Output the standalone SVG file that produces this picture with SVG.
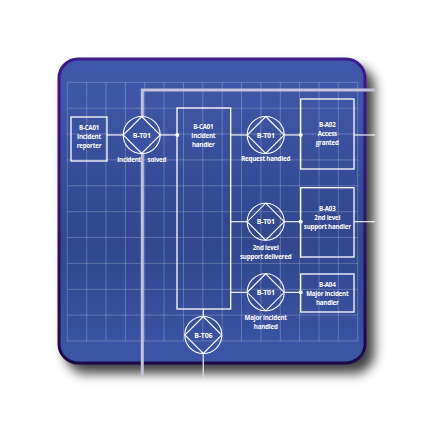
<svg xmlns="http://www.w3.org/2000/svg" width="443" height="443" viewBox="0 0 443 443">
<defs>
<linearGradient id="panelFill" x1="0" y1="0" x2="0" y2="1">
<stop offset="0" stop-color="#4159aa"/>
<stop offset="0.6" stop-color="#30478f"/>
<stop offset="1" stop-color="#3c55a6"/>
</linearGradient>
<linearGradient id="panelStroke" x1="0" y1="0" x2="0" y2="1">
<stop offset="0" stop-color="#3d1a8c"/>
<stop offset="1" stop-color="#1c0c44"/>
</linearGradient>
<filter id="shadow" x="-20%" y="-20%" width="150%" height="150%">
<feGaussianBlur in="SourceAlpha" stdDeviation="6"/>
<feOffset dx="8" dy="9" result="b"/>
<feComponentTransfer><feFuncA type="linear" slope="0.75"/></feComponentTransfer>
<feMerge><feMergeNode/><feMergeNode in="SourceGraphic"/></feMerge>
</filter>
</defs>
<style>
.grid{stroke:#ffffff;stroke-opacity:0.22;stroke-width:1;fill:none}
.box{fill:none;stroke:#ffffff;stroke-width:1.3}
.trans{fill:none;stroke:#ffffff;stroke-width:1.1}
.conn{stroke:#ffffff;stroke-width:1.1;fill:none}
.dot{fill:#ffffff}
text{font-family:"Open Sans","Noto Sans",sans-serif;font-weight:bold;font-size:6.2px;fill:#ffffff;text-anchor:middle;letter-spacing:-0.2px}
.tid{font-size:7px}
.thick{stroke:#c6c2da;stroke-width:3;fill:none}
</style>
<rect width="443" height="443" fill="#ffffff"/>
<rect x="59" y="59" width="306" height="304" rx="19" ry="19" fill="url(#panelFill)" stroke="url(#panelStroke)" stroke-width="3" filter="url(#shadow)"/>
<g id="grid">
<rect class="grid" x="67.3" y="82.3" width="290.4" height="258.7"/>
<path class="grid" d="M86.7 82.3V341M106 82.3V341M125.4 82.3V341M144.7 82.3V341M164.1 82.3V341M183.5 82.3V341M202.8 82.3V341M222.2 82.3V341M241.5 82.3V341M260.9 82.3V341M280.3 82.3V341M299.6 82.3V341M319 82.3V341M338.3 82.3V341"/>
<path class="grid" d="M67.3 108.2H357.7M67.3 134H357.7M67.3 159.9H357.7M67.3 185.8H357.7M67.3 211.7H357.7M67.3 237.5H357.7M67.3 263.4H357.7M67.3 289.3H357.7M67.3 315.1H357.7"/>
</g>
<g id="boundary">
<polyline class="thick" points="375,90 142.3,90 142.3,377"/>
</g>
<g id="connectors">
<line class="conn" x1="107" y1="135" x2="123.2" y2="135"/>
<line class="conn" x1="160.2" y1="135" x2="177" y2="135"/>
<line class="conn" x1="230.7" y1="135" x2="247.2" y2="135"/>
<line class="conn" x1="284.2" y1="135" x2="300.7" y2="135"/>
<line class="conn" x1="354" y1="135" x2="375" y2="135"/>
<line class="conn" x1="230.7" y1="221.7" x2="247.2" y2="221.7"/>
<line class="conn" x1="284.2" y1="221.7" x2="300.7" y2="221.7"/>
<line class="conn" x1="354" y1="221.7" x2="375" y2="221.7"/>
<line class="conn" x1="230.7" y1="292.3" x2="247.2" y2="292.3"/>
<line class="conn" x1="284.2" y1="292.3" x2="300.7" y2="292.3"/>
<line class="conn" x1="203.3" y1="309" x2="203.3" y2="316.5"/>
<line x1="203.3" y1="353.5" x2="203.3" y2="379" stroke="#d8d5e6" stroke-width="1.4"/>
<circle class="dot" cx="177.3" cy="135" r="2"/>
<circle class="dot" cx="300.7" cy="135" r="2"/>
<circle class="dot" cx="300.7" cy="221.7" r="2"/>
<circle class="dot" cx="300.7" cy="292.3" r="2"/>
</g>
<g id="ca01-reporter">
<rect class="box" x="71" y="117" width="36" height="44"/>
<text x="89" y="130">B-CA01</text>
<text x="89" y="139">Incident</text>
<text x="89" y="148">reporter</text>
</g>
<g id="t01-incident-solved">
<circle cx="141.7" cy="135" r="18.5" fill="#3a52a1" stroke="#ffffff" stroke-width="1.1"/>
<polygon class="trans" points="141.7,116.5 160.2,135 141.7,153.5 123.2,135"/>
<text class="tid" x="141.7" y="137.5">B-T01</text>
<text x="141.7" y="162" word-spacing="5">Incident solved</text>
</g>
<g id="ca01-handler">
<rect class="box" x="177" y="108" width="53.7" height="201"/>
<text x="203.3" y="129">B-CA01</text>
<text x="203.3" y="138">Incident</text>
<text x="203.3" y="147">handler</text>
</g>
<g id="t01-request-handled">
<circle class="trans" cx="265.7" cy="135" r="18.5"/>
<polygon class="trans" points="265.7,116.5 284.2,135 265.7,153.5 247.2,135"/>
<text class="tid" x="265.7" y="137.5">B-T01</text>
<text x="265.7" y="161">Request handled</text>
</g>
<g id="a02">
<rect class="box" x="300.7" y="99" width="53.3" height="70"/>
<text x="327.3" y="127">B-A02</text>
<text x="327.3" y="136">Access</text>
<text x="327.3" y="145">granted</text>
</g>
<g id="t01-2nd-level">
<circle class="trans" cx="265.7" cy="221.7" r="18.5"/>
<polygon class="trans" points="265.7,203.2 284.2,221.7 265.7,240.2 247.2,221.7"/>
<text class="tid" x="265.7" y="224.2">B-T01</text>
<text x="265.7" y="249.5">2nd level</text>
<text x="265.7" y="258.5">support delivered</text>
</g>
<g id="a03">
<rect class="box" x="300.7" y="187.7" width="53.3" height="69.3"/>
<text x="327.3" y="211">B-A03</text>
<text x="327.3" y="220">2nd level</text>
<text x="327.3" y="229">support handler</text>
</g>
<g id="t01-major">
<circle class="trans" cx="265.7" cy="292.3" r="18.5"/>
<polygon class="trans" points="265.7,273.8 284.2,292.3 265.7,310.8 247.2,292.3"/>
<text class="tid" x="265.7" y="294.8">B-T01</text>
<text x="265.7" y="319.5">Major incident</text>
<text x="265.7" y="328.5">handled</text>
</g>
<g id="a04">
<rect class="box" x="300.7" y="274" width="53.3" height="38"/>
<text x="327.3" y="287">B-A04</text>
<text x="327.3" y="296">Major incident</text>
<text x="327.3" y="305">handler</text>
</g>
<g id="t06">
<circle class="trans" cx="203.3" cy="335" r="18.5"/>
<polygon class="trans" points="203.3,316.5 221.8,335 203.3,353.5 184.8,335"/>
<text class="tid" x="203.3" y="337.5">B-T06</text>
</g>
</svg>
